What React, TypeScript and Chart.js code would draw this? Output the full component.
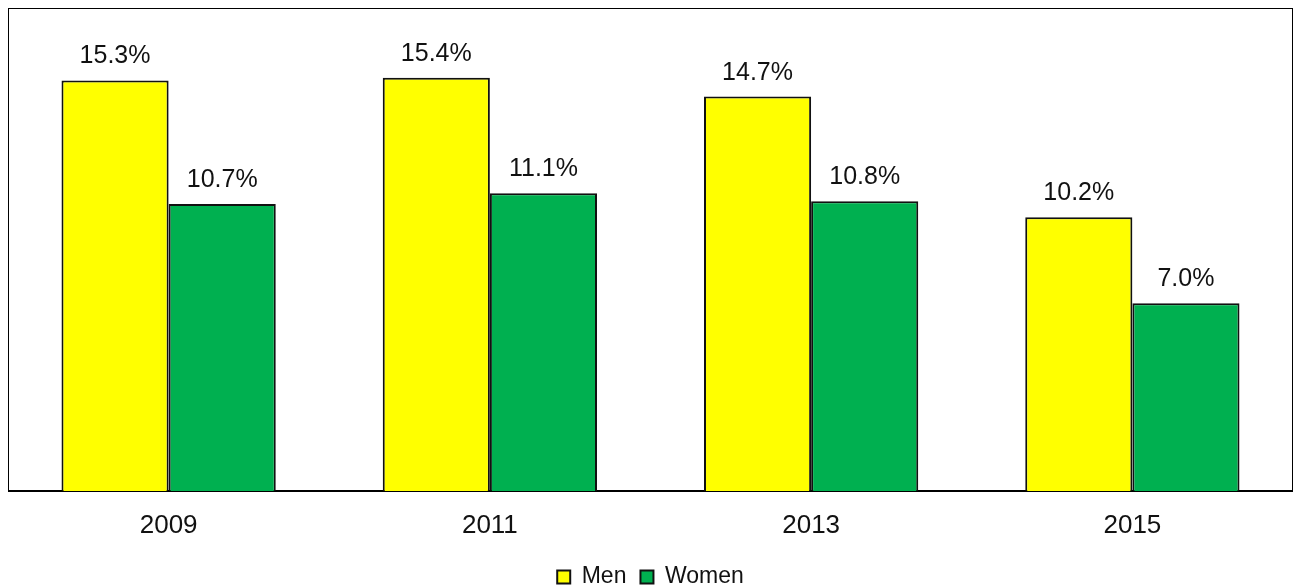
import React, { useEffect, useRef } from "react";
import { Chart, registerables } from "chart.js";

Chart.register(...registerables);

const years = ["2009", "2011", "2013", "2015"];
const menRates = [15.3, 15.4, 14.7, 10.2];
const womenRates = [10.7, 11.1, 10.8, 7.0];
const seriesNames = ["Men", "Women"];

const FONT = '"Liberation Sans", Arial, Helvetica, sans-serif';

// Outline around the plotting area
const framePlugin = {
  id: "plotFrame",
  beforeDatasetsDraw(chart: any) {
    const { ctx, chartArea } = chart;
    const { left, top, right, bottom } = chartArea;
    ctx.save();
    ctx.strokeStyle = "#000";
    ctx.lineWidth = 1;
    ctx.strokeRect(left + 0.5, top + 0.5, right - left - 1, bottom - top - 1);
    ctx.lineWidth = 2;
    ctx.beginPath();
    ctx.moveTo(left, bottom);
    ctx.lineTo(right, bottom);
    ctx.stroke();
    ctx.restore();
  },
};

// Percentage labels above each bar
const valueLabelPlugin = {
  id: "valueLabels",
  afterDatasetsDraw(chart: any) {
    const { ctx } = chart;
    ctx.save();
    ctx.font = `25px ${FONT}`;
    ctx.fillStyle = "#111";
    ctx.textAlign = "center";
    ctx.textBaseline = "alphabetic";
    chart.data.datasets.forEach((ds: any, di: number) => {
      const meta = chart.getDatasetMeta(di);
      meta.data.forEach((bar: any, i: number) => {
        const v = ds.data[i] as number;
        ctx.fillText(`${v.toFixed(1)}%`, bar.x, bar.y - 17);
      });
    });
    ctx.restore();
  },
};

export default function App() {
  const canvasRef = useRef<HTMLCanvasElement | null>(null);

  useEffect(() => {
    document.body.style.margin = "0";
    const canvas = canvasRef.current;
    if (!canvas) return;
    const chart = new Chart(canvas, {
      type: "bar",
      data: {
        labels: years,
        datasets: [
          {
            label: seriesNames[0],
            data: menRates,
            backgroundColor: "#FFFF00",
            borderColor: "#111",
            borderWidth: 2,
          },
          {
            label: seriesNames[1],
            data: womenRates,
            backgroundColor: "#00B050",
            borderColor: "#111",
            borderWidth: 2,
          },
        ],
      },
      options: {
        animation: false,
        responsive: true,
        maintainAspectRatio: false,
        layout: { padding: { left: 8, top: 8, right: 3, bottom: -10.5 } },
        datasets: {
          bar: { categoryPercentage: 0.667, barPercentage: 1 },
        },
        scales: {
          x: {
            grid: { display: false, drawTicks: false },
            border: { display: false },
            ticks: {
              color: "#111",
              padding: 19,
              font: { family: FONT, size: 26 },
            },
            afterFit: (scale: any) => {
              scale.height = 60.5;
            },
          },
          y: {
            display: false,
            min: 0,
            max: 18,
          },
        },
        plugins: {
          legend: {
            position: "bottom",
            labels: {
              color: "#111",
              boxWidth: 13,
              boxHeight: 13,
              padding: 14,
              font: { family: FONT, size: 23 },
            },
          },
          tooltip: { enabled: false },
        },
      },
      plugins: [framePlugin, valueLabelPlugin],
    });
    return () => chart.destroy();
  }, []);

  return (
    <div style={{ width: 1296, height: 588, position: "relative" }}>
      <canvas ref={canvasRef} />
    </div>
  );
}
